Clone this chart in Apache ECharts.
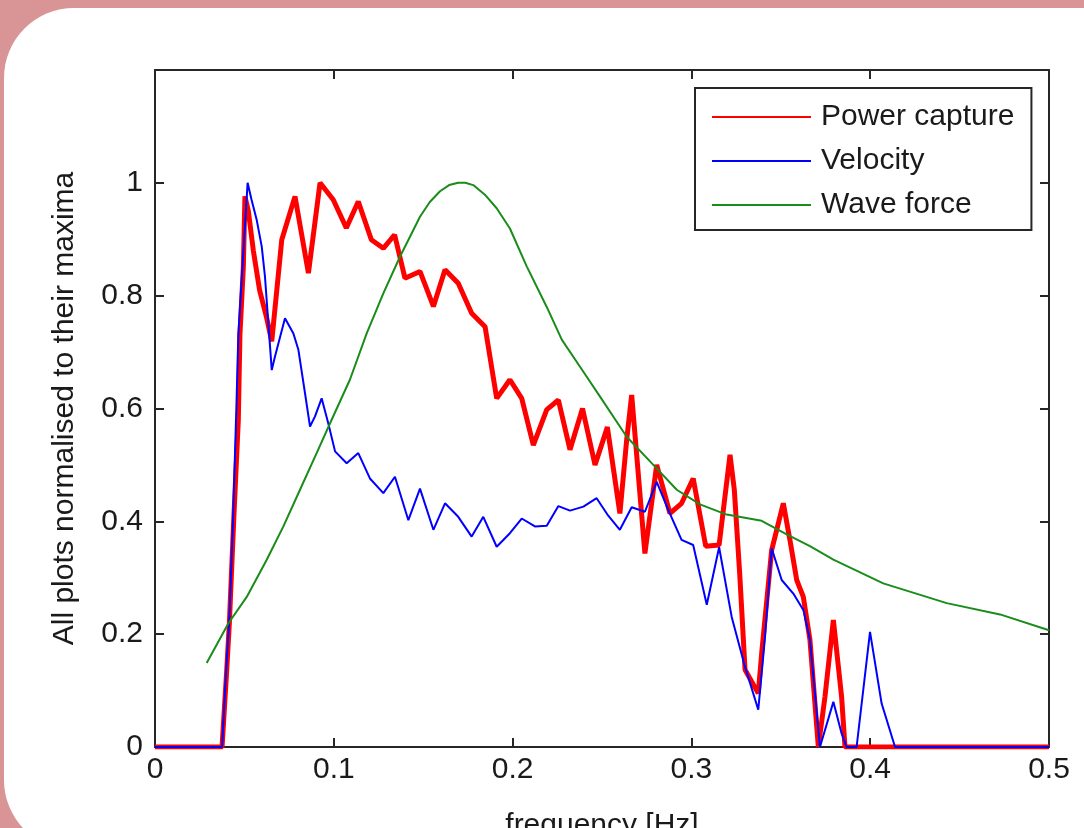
<!DOCTYPE html>
<html>
<head>
<meta charset="utf-8">
<script src="https://cdn.jsdelivr.net/npm/echarts@6/dist/echarts.min.js"></script>
<style>
  html, body { margin: 0; padding: 0; width: 1084px; height: 828px; overflow: hidden; background: #d99595; }
  .panel { position: absolute; left: 4px; top: 8px; width: 1200px; height: 842px; background: #fff; border-radius: 70px; }
  #chart { position: absolute; left: 0; top: 0; width: 1084px; height: 828px; }
</style>
</head>
<body>
<div class="panel"></div>
<div id="chart"></div>
<script>
// 频率刻度
const xTicks = [0, 0.1, 0.2, 0.3, 0.4, 0.5];
const yTicks = [0, 0.2, 0.4, 0.6, 0.8, 1];

// [frequency, normalised value]
const powerCapture = [
  [0, 0], [0.0375, 0], [0.040, 0.13], [0.0416, 0.22], [0.044, 0.40], [0.0466, 0.58],
  [0.0475, 0.73], [0.0494, 0.85], [0.0503, 0.976], [0.0522, 0.95], [0.055, 0.88],
  [0.0585, 0.81], [0.0625, 0.76], [0.0653, 0.719], [0.0709, 0.899], [0.0783, 0.976],
  [0.0858, 0.84], [0.0923, 1.0], [0.0997, 0.97], [0.107, 0.92], [0.1137, 0.967],
  [0.121, 0.899], [0.1277, 0.884], [0.134, 0.908], [0.1398, 0.831], [0.1482, 0.843],
  [0.1557, 0.781], [0.1622, 0.846], [0.1696, 0.822], [0.1771, 0.769], [0.1846, 0.745],
  [0.1911, 0.618], [0.1985, 0.651], [0.2051, 0.618], [0.2116, 0.535], [0.2191, 0.598],
  [0.2256, 0.615], [0.2321, 0.527], [0.2391, 0.600], [0.2461, 0.50], [0.2530, 0.567],
  [0.2600, 0.414], [0.2638, 0.544], [0.2666, 0.624], [0.2740, 0.343], [0.2806, 0.50],
  [0.2880, 0.414], [0.2945, 0.432], [0.3010, 0.476], [0.3080, 0.356], [0.3155, 0.358],
  [0.3216, 0.518], [0.3240, 0.456], [0.3270, 0.308], [0.3300, 0.137], [0.3374, 0.095],
  [0.3393, 0.166], [0.3449, 0.349], [0.3514, 0.432], [0.3551, 0.367], [0.3589, 0.296],
  [0.3626, 0.266], [0.3663, 0.19], [0.3710, 0], [0.3747, 0.089], [0.3794, 0.225],
  [0.3840, 0.089], [0.3859, 0], [0.5, 0]
];

const velocity = [
  [0, 0], [0.0375, 0], [0.0395, 0.12], [0.0416, 0.23], [0.0436, 0.40], [0.0455, 0.60],
  [0.0466, 0.73], [0.0485, 0.83], [0.0518, 1.0], [0.054, 0.97], [0.0569, 0.934],
  [0.0597, 0.887], [0.0615, 0.834], [0.0634, 0.751], [0.0653, 0.668], [0.0671, 0.692],
  [0.0727, 0.76], [0.0774, 0.733], [0.0802, 0.704], [0.0839, 0.627], [0.0867, 0.568],
  [0.0895, 0.586], [0.0932, 0.618], [0.0969, 0.574], [0.1007, 0.524], [0.1072, 0.503],
  [0.1137, 0.521], [0.1202, 0.476], [0.1277, 0.45], [0.1342, 0.479], [0.1417, 0.402],
  [0.1482, 0.458], [0.1557, 0.385], [0.1622, 0.432], [0.1696, 0.408], [0.1771, 0.373],
  [0.1836, 0.408], [0.1911, 0.355], [0.1985, 0.379], [0.2051, 0.405], [0.2125, 0.391],
  [0.2191, 0.392], [0.2256, 0.427], [0.2321, 0.419], [0.2396, 0.426], [0.247, 0.441],
  [0.2535, 0.41], [0.26, 0.385], [0.2666, 0.425], [0.274, 0.417], [0.2806, 0.47],
  [0.2871, 0.42], [0.2945, 0.367], [0.301, 0.358], [0.3086, 0.252], [0.3155, 0.354],
  [0.3225, 0.231], [0.33, 0.142], [0.3374, 0.066], [0.3412, 0.196], [0.3449, 0.352],
  [0.3505, 0.296], [0.357, 0.272], [0.3626, 0.243], [0.3663, 0.19], [0.3719, 0],
  [0.3794, 0.08], [0.384, 0.024], [0.3868, 0], [0.3924, 0], [0.3999, 0.204],
  [0.4064, 0.077], [0.4139, 0], [0.5, 0]
];

const waveForce = [
  [0.0289, 0.149], [0.041, 0.219], [0.0513, 0.266], [0.0625, 0.332], [0.0718, 0.391],
  [0.0811, 0.456], [0.0904, 0.521], [0.0988, 0.58], [0.109, 0.651], [0.1184, 0.733],
  [0.1277, 0.804], [0.137, 0.869], [0.1482, 0.94], [0.1537, 0.966], [0.1594, 0.985],
  [0.1645, 0.996], [0.1696, 1.0], [0.1735, 1.0], [0.178, 0.996], [0.1845, 0.979],
  [0.1911, 0.955], [0.1985, 0.919], [0.2079, 0.852], [0.2191, 0.78], [0.2275, 0.722],
  [0.2377, 0.674], [0.2489, 0.621], [0.2638, 0.55], [0.2787, 0.5], [0.2918, 0.456],
  [0.3048, 0.43], [0.3197, 0.412], [0.3393, 0.401], [0.3533, 0.377], [0.3663, 0.356],
  [0.3794, 0.332], [0.4073, 0.29], [0.4428, 0.255], [0.4726, 0.235], [0.5, 0.207]
];

const font = "'Liberation Sans', Arial, sans-serif";
const axisColor = "#262626";

const chart = echarts.init(document.getElementById("chart"));

const baseAxis = () => ({
  type: "value",
  axisLine: { show: true, onZero: false, lineStyle: { color: axisColor, width: 2 } },
  axisTick: { show: true, inside: true, length: 9, lineStyle: { color: axisColor, width: 2 } },
  splitLine: { show: false },
});

const option = {
  backgroundColor: "transparent",
  animation: false,
  grid: { left: 155, top: 70, right: 35, bottom: 81, outerBoundsMode: "none" },
  legend: {
    orient: "vertical",
    left: 695,
    top: 88,
    padding: [14, 17, 10, 16],
    itemWidth: 99,
    itemHeight: 14,
    itemGap: 14,
    borderColor: axisColor,
    borderWidth: 2,
    borderRadius: 0,
    backgroundColor: "#fff",
    itemStyle: { opacity: 0 },
    textStyle: { fontSize: 30, fontFamily: font, color: "#1a1a1a", padding: [0, 0, 0, 5], lineHeight: 30 },
    data: ["Power capture", "Velocity", "Wave force"],
  },
  xAxis: [
    {
      ...baseAxis(),
      position: "bottom",
      min: xTicks[0],
      max: xTicks[xTicks.length - 1],
      interval: 0.1,
      axisLabel: { fontSize: 30, fontFamily: font, color: "#1a1a1a", margin: 8 },
      name: "frequency [Hz]",
      nameLocation: "middle",
      nameGap: 64,
      nameTextStyle: { fontSize: 30, fontFamily: font, color: "#1a1a1a" },
    },
    {
      ...baseAxis(),
      position: "top",
      min: xTicks[0],
      max: xTicks[xTicks.length - 1],
      interval: 0.1,
      axisLabel: { show: false },
    },
  ],
  yAxis: [
    {
      ...baseAxis(),
      position: "left",
      min: yTicks[0],
      max: 1.2,
      interval: 0.2,
      axisLabel: {
        fontSize: 30,
        fontFamily: font,
        color: "#1a1a1a",
        margin: 12,
        formatter: (v) => (yTicks.some((t) => Math.abs(t - v) < 1e-6) ? String(+v.toFixed(1)) : ""),
      },
      name: "All plots normalised to their maxima",
      nameLocation: "middle",
      nameGap: 75,
      nameTextStyle: { fontSize: 30, fontFamily: font, color: "#1a1a1a" },
    },
    {
      ...baseAxis(),
      position: "right",
      min: yTicks[0],
      max: 1.2,
      interval: 0.2,
      axisLabel: { show: false },
    },
  ],
  series: [
    {
      name: "Power capture",
      type: "line",
      data: powerCapture,
      symbol: "none",
      lineStyle: { color: "#ff0000", width: 5 },
      itemStyle: { color: "#ff0000" },
    },
    {
      name: "Velocity",
      type: "line",
      data: velocity,
      symbol: "none",
      lineStyle: { color: "#0000ff", width: 2 },
      itemStyle: { color: "#0000ff" },
    },
    {
      name: "Wave force",
      type: "line",
      data: waveForce,
      symbol: "none",
      lineStyle: { color: "#1a8c1a", width: 2 },
      itemStyle: { color: "#1a8c1a" },
    },
  ],
};

chart.setOption(option);
</script>
</body>
</html>
